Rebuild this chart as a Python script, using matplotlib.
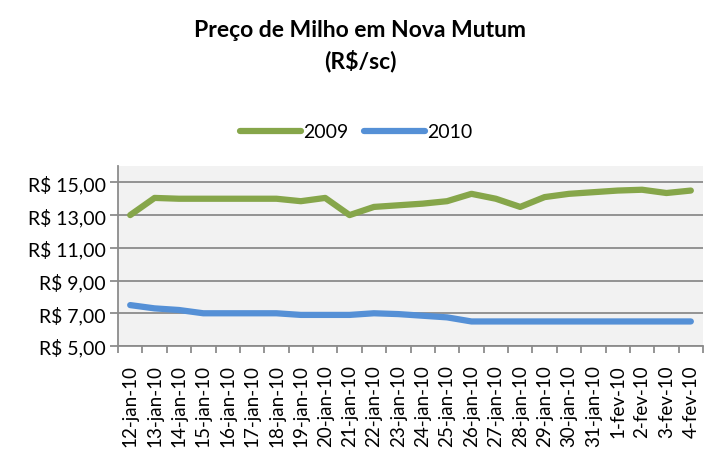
import matplotlib
matplotlib.use("Agg")
import matplotlib.pyplot as plt

# dados
datas = ["12-jan-10", "13-jan-10", "14-jan-10", "15-jan-10", "16-jan-10", "17-jan-10",
         "18-jan-10", "19-jan-10", "20-jan-10", "21-jan-10", "22-jan-10", "23-jan-10",
         "24-jan-10", "25-jan-10", "26-jan-10", "27-jan-10", "28-jan-10", "29-jan-10",
         "30-jan-10", "31-jan-10", "1-fev-10", "2-fev-10", "3-fev-10", "4-fev-10"]
preco_2009 = [13.0, 14.05, 14.0, 14.0, 14.0, 14.0, 14.0, 13.85, 14.05, 13.0, 13.5, 13.6,
              13.7, 13.85, 14.3, 14.0, 13.5, 14.1, 14.3, 14.4, 14.5, 14.55, 14.35, 14.5]
preco_2010 = [7.5, 7.3, 7.2, 7.0, 7.0, 7.0, 7.0, 6.9, 6.9, 6.9, 7.0, 6.95,
              6.85, 6.75, 6.5, 6.5, 6.5, 6.5, 6.5, 6.5, 6.5, 6.5, 6.5, 6.5]
yticks = [5, 7, 9, 11, 13, 15]

plt.rcParams['font.family'] = ['Lato', 'DejaVu Sans']

fig = plt.figure(figsize=(7.13, 4.52), dpi=100)
ax = fig.add_axes([0.1655, 0.2323, 0.8205, 0.3982])
ax.set_facecolor('#F2F2F2')

x = list(range(len(datas)))
l1, = ax.plot(x, preco_2009, color='#86A64A', lw=4.5, solid_joinstyle='round',
              solid_capstyle='round', label='2009', zorder=3)
l2, = ax.plot(x, preco_2010, color='#5590D6', lw=4.5, solid_joinstyle='round',
              solid_capstyle='round', label='2010', zorder=3)

ax.set_xlim(-0.5, len(datas) - 0.5)
ax.set_ylim(5, 16)
ax.set_yticks(yticks)
ax.set_yticklabels(["R$ %d,00" % v for v in yticks], fontsize=14)
ax.yaxis.grid(True, color='#8C8C8C', lw=1.3)
ax.set_axisbelow(True)

ax.set_xticks([i - 0.5 for i in range(len(datas) + 1)])
ax.set_xticklabels([])
ax.set_xticks(x, minor=True)
ax.set_xticklabels(datas, minor=True, rotation=90, fontsize=13.5)
ax.tick_params(axis='x', which='minor', length=0, pad=13)
ax.tick_params(axis='x', which='major', length=5, width=1.3, color='#8C8C8C')
ax.tick_params(axis='y', length=6, width=1.3, color='#8C8C8C', pad=3)

for s in ['top', 'right']:
    ax.spines[s].set_visible(False)
for s in ['left', 'bottom']:
    ax.spines[s].set_color('#8C8C8C')
    ax.spines[s].set_linewidth(1.3)

fig.text(0.505, 0.898, "Preço de Milho em Nova Mutum\n(R$/sc)", ha='center', va='center',
         fontsize=16.5, fontweight='bold', linespacing=1.45)

fig.legend(handles=[l1, l2], loc='center', bbox_to_anchor=(0.5, 0.706), ncol=2,
           frameon=False, fontsize=14, handlelength=3.1, handletextpad=0.15,
           columnspacing=0.8)

fig.savefig("out.png", dpi=100)
